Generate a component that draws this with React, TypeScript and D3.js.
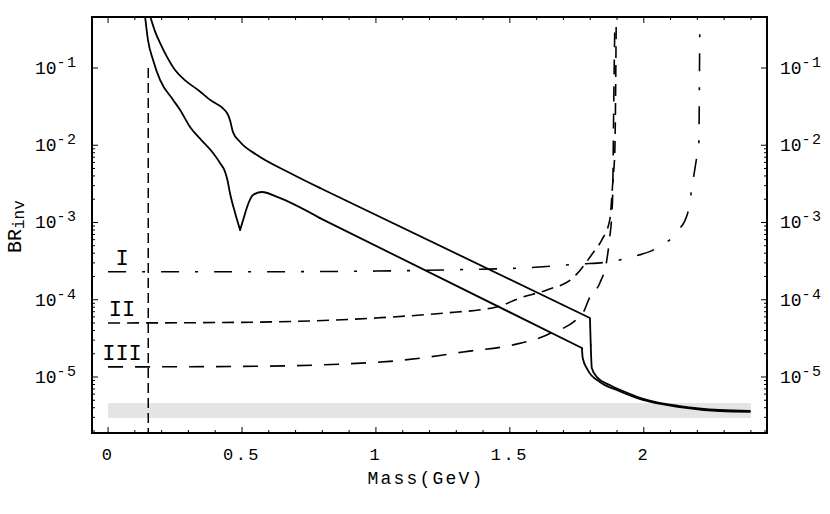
import React from "react";
import * as d3 from "d3";

// ---- data ----
const X_TICKS = [0, 0.5, 1, 1.5, 2];
const X_TICK_LABELS = ["0", "0.5", "1", "1.5", "2"];
const Y_TICK_EXPS = [-1, -2, -3, -4, -5];

// upper solid curve: smooth head, straight middle, smooth tail
const UPPER_HEAD_M = [0.157, 0.175, 0.194, 0.22, 0.25, 0.29, 0.336, 0.381, 0.444, 0.455, 0.466, 0.493, 0.556, 0.679, 0.791];
const UPPER_HEAD_BR = [0.47, 0.3, 0.211, 0.139, 0.094, 0.068, 0.0519, 0.0386, 0.0261, 0.0212, 0.0149, 0.011, 0.00748, 0.00438, 0.0028];
const UPPER_MID_M = [0.791, 1.799, 1.802];
const UPPER_MID_BR = [0.0028, 5.81e-5, 2.6e-5];
const UPPER_TAIL_M = [1.802, 1.806, 1.825, 1.873, 1.959, 2.011, 2.134, 2.284, 2.396];
const UPPER_TAIL_BR = [2.6e-5, 1.31e-5, 1.0e-5, 7.87e-6, 5.85e-6, 5.04e-6, 4.21e-6, 3.74e-6, 3.63e-6];

// lower solid curve
const LOWER_HEAD_M = [0.138, 0.149, 0.168, 0.194, 0.243, 0.269, 0.306, 0.35, 0.392, 0.418, 0.437, 0.446, 0.455, 0.475, 0.493];
const LOWER_HEAD_BR = [0.47, 0.23, 0.127, 0.07, 0.0386, 0.0286, 0.0172, 0.0115, 0.00794, 0.00589, 0.00451, 0.0035, 0.00241, 0.0013, 8.0e-4];
const LOWER_BUMP_M = [0.493, 0.505, 0.519, 0.541, 0.575, 0.631, 0.791];
const LOWER_BUMP_BR = [8.0e-4, 0.0011, 0.00159, 0.00227, 0.00248, 0.00214, 0.00114];
const LOWER_MID_M = [0.791, 1.769];
const LOWER_MID_BR = [0.00114, 2.37e-5];
const LOWER_TAIL_M = [1.769, 1.772, 1.791, 1.836, 1.899, 1.996, 2.134, 2.284, 2.396];
const LOWER_TAIL_BR = [2.37e-5, 1.76e-5, 1.23e-5, 8.61e-6, 6.79e-6, 5.04e-6, 4.09e-6, 3.63e-6, 3.55e-6];

const I_M = [0, 0.5, 1.0, 1.3, 1.55, 1.76, 1.873, 1.955, 2.049, 2.123, 2.164, 2.183, 2.198, 2.205, 2.209];
const I_BR = [2.3e-4, 2.3e-4, 2.35e-4, 2.45e-4, 2.58e-4, 2.9e-4, 3.1e-4, 3.58e-4, 4.67e-4, 7.5e-4, 1.33e-3, 3.34e-3, 7.05e-3, 0.0095, 0.34];

const II_M = [0, 0.5, 1.015, 1.25, 1.451, 1.537, 1.638, 1.735, 1.81, 1.843, 1.873, 1.884, 1.892, 1.897];
const II_BR = [5.0e-5, 5.1e-5, 5.85e-5, 6.7e-5, 8.05e-5, 1.05e-4, 1.34e-4, 1.91e-4, 4.03e-4, 5.93e-4, 1.08e-3, 3.24e-3, 8.7e-3, 0.4];

const III_M = [0, 0.5, 1.015, 1.201, 1.325, 1.511, 1.638, 1.772, 1.799, 1.836, 1.862, 1.873, 1.881, 1.884, 1.888, 1.892];
const III_BR = [1.35e-5, 1.37e-5, 1.56e-5, 1.82e-5, 2.11e-5, 2.6e-5, 3.5e-5, 6.7e-5, 1.09e-4, 1.65e-4, 3.27e-4, 6.5e-4, 1.33e-3, 2.41e-3, 0.0386, 0.4];

const CURVE_LABELS = ["I", "II", "III"];
const LABEL_M = 0.052;

const CUT_M = 0.15;
const CUT_TOP = 0.1;

const BAND_M = [0, 2.4];
const BAND_BR = [2.94e-6, 4.6e-6];

const FONT = "'Liberation Mono', 'Courier New', monospace";

export default function App() {
  const W = 830, H = 514;
  const L = 92, R = 767, T = 17, B = 433;
  const x = d3.scaleLinear().domain([-0.06, 2.46]).range([L, R]);
  const y = d3.scaleLog().domain([Math.pow(10, -5.725), Math.pow(10, -0.34)]).range([B, T]);

  const pts = (ms: number[], vs: number[]) => ms.map((m, i) => [m, vs[i]] as [number, number]);
  const smooth = d3.line<[number, number]>().x(d => x(d[0])).y(d => y(d[1])).curve(d3.curveMonotoneX);
  const straight = d3.line<[number, number]>().x(d => x(d[0])).y(d => y(d[1])).curve(d3.curveLinear);

  const solidParts: { d: string }[] = [
    { d: smooth(pts(UPPER_HEAD_M, UPPER_HEAD_BR)) || "" },
    { d: straight(pts(UPPER_MID_M, UPPER_MID_BR)) || "" },
    { d: smooth(pts(UPPER_TAIL_M, UPPER_TAIL_BR)) || "" },
    { d: smooth(pts(LOWER_HEAD_M, LOWER_HEAD_BR)) || "" },
    { d: smooth(pts(LOWER_BUMP_M, LOWER_BUMP_BR)) || "" },
    { d: straight(pts(LOWER_MID_M, LOWER_MID_BR)) || "" },
    { d: smooth(pts(LOWER_TAIL_M, LOWER_TAIL_BR)) || "" },
  ];

  const xMinor = d3.range(0, 25).map(i => i / 10);
  const yMinor: number[] = [];
  for (let e = -6; e <= -3; e++) for (let k = 2; k <= 9; k++) {
    const v = k * Math.pow(10, e);
    if (v > y.domain()[0] && v < y.domain()[1]) yMinor.push(v);
  }

  const curves = [
    { m: I_M, v: I_BR, dash: "18,16,3,16" },
    { m: II_M, v: II_BR, dash: "12,7" },
    { m: III_M, v: III_BR, dash: "15,12" },
  ];

  return (
    <svg width={W} height={H} style={{ position: "absolute", left: 0, top: 0, background: "#fff" }}>
      <defs>
        <clipPath id="plotclip">
          <rect x={L} y={T} width={R - L} height={B - T} />
        </clipPath>
      </defs>
      <rect x={0} y={0} width={W} height={H} fill="#fff" />
      {/* band */}
      <rect x={x(BAND_M[0])} y={y(BAND_BR[1])} width={x(BAND_M[1]) - x(BAND_M[0])} height={y(BAND_BR[0]) - y(BAND_BR[1])} fill="#e4e4e4" />
      <g clipPath="url(#plotclip)" fill="none" stroke="#000" strokeLinejoin="round" strokeLinecap="butt">
        <line x1={x(CUT_M)} x2={x(CUT_M)} y1={y(CUT_TOP)} y2={B} strokeWidth={1.5} strokeDasharray="10,5" />
        {curves.map((c, i) => (
          <path key={i} d={smooth(pts(c.m, c.v)) || ""} strokeWidth={1.6} strokeDasharray={c.dash} />
        ))}
        {solidParts.map((p, i) => (
          <path key={"s" + i} d={p.d} strokeWidth={1.8} strokeLinecap="round" />
        ))}
      </g>
      {/* curve labels */}
      {curves.map((c, i) => (
        <text key={i} x={x(LABEL_M)} y={y(c.v[0]) - 7} textAnchor="middle" fontFamily={FONT} fontSize={22} fill="#000">
          {CURVE_LABELS[i]}
        </text>
      ))}
      {/* frame */}
      <rect x={L} y={T} width={R - L} height={B - T} fill="none" stroke="#000" strokeWidth={2} />
      {/* ticks */}
      <g stroke="#000" strokeWidth={1}>
        {xMinor.map((m, i) => {
          const major = Math.abs(m * 2 - Math.round(m * 2)) < 1e-6;
          const len = major ? 6 : 3;
          return (
            <g key={i}>
              <line x1={x(m)} x2={x(m)} y1={B} y2={B - len} />
              <line x1={x(m)} x2={x(m)} y1={T} y2={T + len} />
            </g>
          );
        })}
        {Y_TICK_EXPS.map((e, i) => (
          <g key={"M" + i}>
            <line x1={L} x2={L + 6} y1={y(Math.pow(10, e))} y2={y(Math.pow(10, e))} />
            <line x1={R} x2={R - 6} y1={y(Math.pow(10, e))} y2={y(Math.pow(10, e))} />
          </g>
        ))}
        {yMinor.map((v, i) => (
          <g key={"m" + i}>
            <line x1={L} x2={L + 3} y1={y(v)} y2={y(v)} />
            <line x1={R} x2={R - 3} y1={y(v)} y2={y(v)} />
          </g>
        ))}
      </g>
      {/* x tick labels */}
      {X_TICKS.map((m, i) => (
        <text key={i} x={x(m)} y={460} textAnchor="middle" fontFamily={FONT} fontSize={17} letterSpacing={2.5} fill="#000">
          {X_TICK_LABELS[i]}
        </text>
      ))}
      <text x={426} y={484} textAnchor="middle" fontFamily={FONT} fontSize={18} letterSpacing={2.2} fill="#000">Mass(GeV)</text>
      {/* y tick labels */}
      {Y_TICK_EXPS.map((e, i) => (
        <g key={i}>
          <text x={35} y={y(Math.pow(10, e)) + 6} fontFamily={FONT} fontSize={18} fill="#000">
            10<tspan dy={-7} fontSize={15} letterSpacing={1.5}>{String(e)}</tspan>
          </text>
          <text x={780} y={y(Math.pow(10, e)) + 6} fontFamily={FONT} fontSize={18} fill="#000">
            10<tspan dy={-7} fontSize={15} letterSpacing={1.5}>{String(e)}</tspan>
          </text>
        </g>
      ))}
      {/* y axis title */}
      <text transform="translate(21,253) rotate(-90)" fontFamily={FONT} fontSize={20} fill="#000">
        BR<tspan dy={3} fontSize={16}>inv</tspan>
      </text>
    </svg>
  );
}
